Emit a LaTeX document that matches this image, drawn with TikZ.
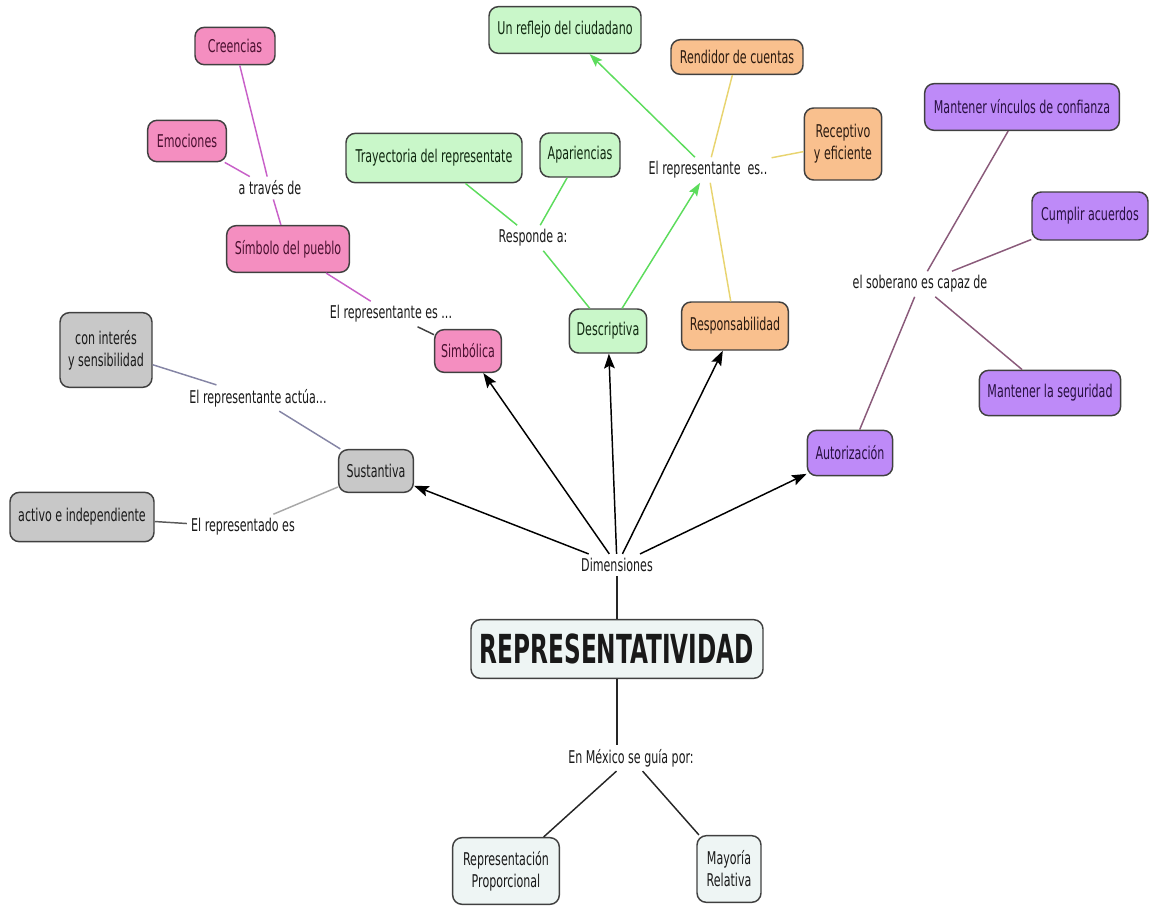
\documentclass[tikz,border=0pt]{standalone}
\usepackage{fontspec}
\setmainfont[FakeStretch=0.63]{DejaVu Sans}
\newfontfamily\repfont[FakeStretch=0.58]{DejaVu Sans}
\usetikzlibrary{arrows.meta}
\definecolor{pinkfill}{HTML}{F48EC0}
\definecolor{pinktext}{HTML}{4A1030}
\definecolor{pinkline}{HTML}{C860C8}
\definecolor{greenfill}{HTML}{C9F7C9}
\definecolor{greentext}{HTML}{102810}
\definecolor{greenline}{HTML}{5CDC5C}
\definecolor{orangefill}{HTML}{F9C08E}
\definecolor{orangetext}{HTML}{2A1A10}
\definecolor{yellowline}{HTML}{E8D470}
\definecolor{purplefill}{HTML}{BE8AF8}
\definecolor{purpletext}{HTML}{281040}
\definecolor{mauveline}{HTML}{8A5A7A}
\definecolor{grayfill}{HTML}{C8C8C8}
\definecolor{slateline}{HTML}{8585A5}
\definecolor{lgrayline}{HTML}{A8A8A8}
\definecolor{mainfill}{HTML}{EEF5F4}
\begin{document}
\begin{tikzpicture}[x=0.75pt,y=-0.75pt,
  font=\fontsize{13.2}{16.5}\selectfont,
  box/.style={draw=black!75, line width=1.1pt, rounded corners=7pt, align=center, inner sep=1pt},
  pinkbox/.style={box, fill=pinkfill, text=pinktext},
  greenbox/.style={box, fill=greenfill, text=greentext},
  orangebox/.style={box, fill=orangefill, text=orangetext},
  purplebox/.style={box, fill=purplefill, text=purpletext},
  graybox/.style={box, fill=grayfill, text=black!90},
  mainbox/.style={box, fill=mainfill, text=black!90},
  link/.style={inner sep=3pt, text=black!90, align=center},
  conn/.style={line width=1.1pt},
  arr/.style={conn, black, -{Stealth[length=11pt,width=8pt,inset=2pt]}},
  garr/.style={conn, greenline, -{Stealth[length=10pt,width=7pt,inset=2pt]}}
]
\useasboundingbox (0,0) rectangle (1150,915);

% ---- pink group
\node[pinkbox, minimum width=60pt, minimum height=28pt] (cre) at (235,46) {Creencias};
\node[pinkbox, minimum width=59pt, minimum height=31pt] (emo) at (187,141) {Emociones};
\node[link] (atr) at (270,188) {a través de};
\node[pinkbox, minimum width=92pt, minimum height=35pt] (sim) at (288,249) {Símbolo del pueblo};
\node[link] (eres) at (391,314) {El representante es ...};
\node[pinkbox, minimum width=50pt, minimum height=32pt] (simb) at (468,351) {Simbólica};

% ---- green group
\node[greenbox, minimum width=132pt, minimum height=37pt] (tra) at (434,158) {Trayectoria del representate};
\node[greenbox, minimum width=60pt, minimum height=33pt] (apa) at (580,155) {Apariencias};
\node[link] (resp) at (533,238) {Responde a:};
\node[greenbox, minimum width=58pt, minimum height=33pt] (des) at (608,331) {Descriptiva};
\node[greenbox, minimum width=114pt, minimum height=35pt] (ref) at (565,30) {Un reflejo del ciudadano};

% ---- orange group
\node[orangebox, minimum width=99pt, minimum height=26pt] (ren) at (737,57) {Rendidor de cuentas};
\node[orangebox, minimum width=58pt, minimum height=54pt] (rec) at (843,144) {Receptivo\\y eficiente};
\node[link] (eres2) at (708,170) {El representante\ \ es..};
\node[orangebox, minimum width=80pt, minimum height=36pt] (rsp) at (735,326) {Responsabilidad};

% ---- purple group
\node[purplebox, minimum width=146pt, minimum height=35pt] (vin) at (1022,107) {Mantener vínculos de confianza};
\node[purplebox, minimum width=87pt, minimum height=36pt] (cum) at (1090,216) {Cumplir acuerdos};
\node[link] (sob) at (920,284) {el soberano es capaz de};
\node[purplebox, minimum width=106pt, minimum height=34pt] (seg) at (1050,393) {Mantener la seguridad};
\node[purplebox, minimum width=64pt, minimum height=34pt] (aut) at (850,453) {Autorización};

% ---- gray group
\node[graybox, minimum width=69pt, minimum height=56pt] (int) at (106,350) {con interés\\y sensibilidad};
\node[link] (act) at (258,398) {El representante actúa...};
\node[graybox, minimum width=56pt, minimum height=32pt] (sus) at (376,471) {Sustantiva};
\node[graybox, minimum width=108pt, minimum height=37pt] (ind) at (82,517) {activo e independiente};
\node[link] (rdo) at (243,527) {El representado es};

% ---- center
\node[link] (dim) at (617,565) {Dimensiones};
\node[mainbox, minimum width=219pt, minimum height=44pt] (rep) at (617,649) {\repfont\fontsize{30}{33}\selectfont\bfseries REPRESENTATIVIDAD};
\node[link] (mex) at (631,758) {En México se guía por:};
\node[mainbox, minimum width=80pt, minimum height=50pt] (pro) at (506,871) {Representación\\Proporcional};
\node[mainbox, minimum width=48pt, minimum height=50pt] (may) at (729,869) {Mayoría\\Relativa};

% ---- connectors: pink
\draw[conn, pinkline] (cre) -- (atr);
\draw[conn, pinkline] (emo) -- (atr);
\draw[conn, pinkline] (atr) -- (sim);
\draw[conn, pinkline] (sim) -- (eres);
\draw[conn, black!75] (eres) -- (simb);

% ---- connectors: green
\draw[conn, greenline] (tra) -- (resp);
\draw[conn, greenline] (apa) -- (resp);
\draw[conn, greenline] (resp) -- (des);
\draw[garr] (des) -- (eres2);
\draw[garr] (eres2) -- (ref);

% ---- connectors: yellow
\draw[conn, yellowline] (eres2) -- (ren);
\draw[conn, yellowline] (eres2) -- (rec);
\draw[conn, yellowline] (rsp) -- (eres2);

% ---- connectors: purple
\draw[conn, mauveline] (aut) -- (sob);
\draw[conn, mauveline] (sob) -- (vin);
\draw[conn, mauveline] (sob) -- (cum);
\draw[conn, mauveline] (sob) -- (seg);

% ---- connectors: gray
\draw[conn, slateline] (sus) -- (act);
\draw[conn, slateline] (act) -- (int);
\draw[conn, lgrayline] (sus) -- (rdo);
\draw[conn, black!65] (rdo) -- (ind);

% ---- center connectors
\draw[conn, black!85] (rep) -- (dim);
\draw[arr] (dim) -- (sus);
\draw[arr] (dim) -- (simb);
\draw[arr] (dim) -- (des);
\draw[arr] (dim) -- (rsp);
\draw[arr] (dim) -- (aut);
\draw[conn, black!85] (rep.south) -- (rep.south |- mex.north);
\draw[conn, black!85] (mex) -- (pro);
\draw[conn, black!85] (mex) -- (may);
\end{tikzpicture}
\end{document}
